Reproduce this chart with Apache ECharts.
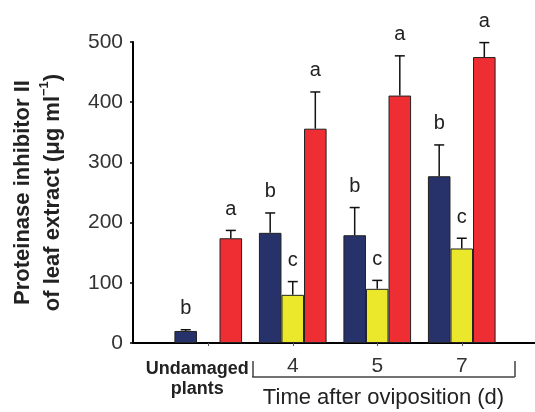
<!DOCTYPE html>
<html>
<head>
<meta charset="utf-8">
<script src="https://cdn.jsdelivr.net/npm/echarts@6/dist/echarts.min.js"></script>
<style>html,body{margin:0;padding:0;background:#fff}#c{width:535px;height:412px}</style>
</head>
<body>
<div id="c"></div>
<script>
const categories = ['Undamaged\nplants', '4', '5', '7'];
const yTicks = [0, 100, 200, 300, 400, 500];
const navyValues = [20, 183, 179, 277];
const navyErrors = [2, 33, 46, 52];
const navyLetters = ['b', 'b', 'b', 'b'];
const yellowValues = [null, 80, 90, 157];
const yellowErrors = [null, 22, 14, 17];
const yellowLetters = ['', 'c', 'c', 'c'];
const redValues = [174, 356, 411, 475];
const redErrors = [13, 61, 66, 24];
const redLetters = ['a', 'a', 'a', 'a'];

const FONT = 'Liberation Sans, Arial, Helvetica, sans-serif';
const colors = ['#27316a', '#ebe72b', '#ef2e34'];
const BAR_FRAC = 0.267;

const groups = [
  [navyValues, navyErrors, navyLetters],
  [yellowValues, yellowErrors, yellowLetters],
  [redValues, redErrors, redLetters]
];
const errRows = [];
groups.forEach((g, k) => {
  g[0].forEach((v, i) => {
    if (v != null) errRows.push({ value: [i, v, g[1][i], k], letter: g[2][i] });
  });
});

const chart = echarts.init(document.getElementById('c'), null, { renderer: 'canvas' });
chart.setOption({
  animation: false,
  textStyle: { fontFamily: FONT },
  grid: [
    { left: 125, right: 0, top: 42, bottom: 69 },
    { left: 166, width: 338, top: 42, bottom: 69 },
    { left: 252.7, right: 20.7, top: 300, bottom: 35 }
  ],
  xAxis: [
    { gridIndex: 0, type: 'value', min: 0, max: 1,
      axisLine: { show: true, lineStyle: { color: '#000', width: 2 } },
      axisTick: { show: false }, axisLabel: { show: false }, splitLine: { show: false } },
    { gridIndex: 1, type: 'category', data: categories.map((c, i) => i === 0 ? {
        value: c, textStyle: { fontWeight: 'bold', fontSize: 18, lineHeight: 20, color: '#222', padding: [3, 22, 0, 0] } } : c),
      boundaryGap: true,
      axisLine: { show: false },
      axisTick: { show: true, alignWithLabel: true, length: 3, lineStyle: { color: '#555', width: 1 } },
      axisLabel: { fontSize: 21, color: '#333', margin: 13, fontFamily: FONT, interval: 0 } },
    { gridIndex: 2, type: 'value', min: 0, max: 1, interval: 1,
      axisLine: { show: true, lineStyle: { color: '#444', width: 1.5 } },
      axisTick: { show: true, inside: true, length: 16, lineStyle: { color: '#444', width: 1.5 } },
      axisLabel: { show: false }, splitLine: { show: false },
      name: 'Time after oviposition (d)', nameLocation: 'middle', nameGap: 10,
      nameTextStyle: { fontSize: 22, color: '#222', fontFamily: FONT, verticalAlign: 'top' } }
  ],
  yAxis: [
    { gridIndex: 0, type: 'value', min: 0, max: 500, interval: 100,
      axisLine: { show: true, lineStyle: { color: '#000', width: 2 } },
      axisTick: { show: true, length: 3, lineStyle: { color: '#000', width: 1.5 } },
      axisLabel: { fontSize: 21, color: '#333', margin: 10, fontFamily: FONT,
        customValues: yTicks },
      splitLine: { show: false },
      name: 'Proteinase inhibitor II\nof leaf extract (\u03bcg ml{sup|\u22121})',
      nameLocation: 'middle', nameRotate: 90, nameGap: 65,
      nameTextStyle: { fontSize: 22, fontWeight: 'bold', color: '#222', lineHeight: 30, fontFamily: FONT,
        rich: { sup: { fontSize: 13, fontWeight: 'bold', color: '#222', verticalAlign: 'top', lineHeight: 30, fontFamily: FONT } } } },
    { gridIndex: 1, type: 'value', min: 0, max: 500, show: false },
    { gridIndex: 2, type: 'value', show: false }
  ],
  series: [
    { type: 'bar', name: 'n', xAxisIndex: 1, yAxisIndex: 1, data: navyValues, barWidth: (BAR_FRAC * 100) + '%', barGap: '0%',
      itemStyle: { color: colors[0], borderColor: '#222', borderWidth: 1 } },
    { type: 'bar', name: 'y', xAxisIndex: 1, yAxisIndex: 1, data: yellowValues, barWidth: (BAR_FRAC * 100) + '%', barGap: '0%',
      itemStyle: { color: colors[1], borderColor: '#222', borderWidth: 1 } },
    { type: 'bar', name: 'r', xAxisIndex: 1, yAxisIndex: 1, data: redValues, barWidth: (BAR_FRAC * 100) + '%', barGap: '0%',
      itemStyle: { color: colors[2], borderColor: '#222', borderWidth: 1 } },
    { type: 'custom', xAxisIndex: 1, yAxisIndex: 1, z: 5,
      data: errRows,
      renderItem: function (params, api) {
        const cat = api.value(0), val = api.value(1), err = api.value(2), k = api.value(3);
        const band = api.size([1, 0])[0];
        const bw = band * BAR_FRAC;
        const cx = api.coord([cat, 0])[0] + (k - 1) * bw;
        const yBar = api.coord([cat, val])[1];
        const yTop = api.coord([cat, val + err])[1];
        const letter = errRows[params.dataIndex].letter;
        return { type: 'group', children: [
          { type: 'line', shape: { x1: cx, y1: yBar, x2: cx, y2: yTop }, style: { stroke: '#111', lineWidth: 1.5 } },
          { type: 'line', shape: { x1: cx - 5, y1: yTop, x2: cx + 5, y2: yTop }, style: { stroke: '#111', lineWidth: 1.5 } },
          { type: 'text', x: cx, y: yTop - 21, style: { text: letter, fontSize: 20, fontFamily: FONT, fill: '#222', align: 'center', verticalAlign: 'middle' } }
        ] };
      } }
  ]
});
</script>
</body>
</html>
